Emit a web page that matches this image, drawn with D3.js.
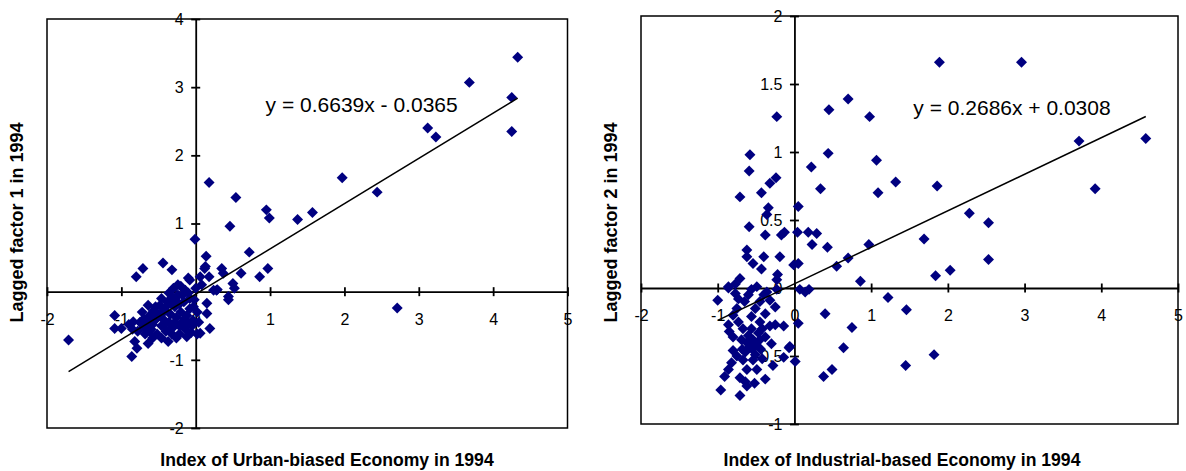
<!DOCTYPE html>
<html>
<head>
<meta charset="utf-8">
<script src="https://cdn.jsdelivr.net/npm/d3@7"></script>
<style>
  body { margin: 0; background: #fff; }
  svg text { font-family: "Liberation Sans", Arial, sans-serif; fill: #000; }
</style>
</head>
<body>
<svg id="chart" width="1186" height="471"></svg>
<script>
// values: [index, lagged factor]
const urbanPoints = [
  [4.33, 3.44], [3.68, 3.07], [4.25, 2.85], [3.12, 2.40], [3.23, 2.27], [4.25, 2.35],
  [1.97, 1.67], [2.44, 1.46], [0.18, 1.60], [0.54, 1.38], [0.95, 1.20], [0.99, 1.08],
  [1.37, 1.06], [1.57, 1.16], [0.46, 0.96], [-0.01, 0.77], [0.14, 0.52], [0.72, 0.58],
  [0.35, 0.34], [0.12, 0.34], [0.61, 0.27], [0.86, 0.22], [0.97, 0.34], [0.50, 0.12],
  [0.37, 0.27], [2.71, -0.24], [0.52, 0.05], [0.44, -0.07], [0.44, -0.12], [0.28, 0.02],
  [0.15, -0.17], [0.15, -0.32], [0.19, -0.54], [0.06, -0.61], [-0.08, 0.17], [-0.24, 0.10],
  [-0.37, -0.73], [-0.64, -0.76], [-1.71, -0.71], [-1.09, -0.35], [-1.09, -0.54], [-1.0, -0.54],
  [-0.86, -0.95], [-0.79, -0.83], [-0.82, -0.73], [-0.80, 0.22], [-0.71, 0.34], [-0.44, 0.42],
  [-0.32, 0.32], [-0.10, 0.20], [0.06, 0.22], [0.13, 0.37], [0.18, 0.22], [0.29, 0.03],
  [0.24, 0.02], [-0.84, -0.44], [-0.75, -0.45], [-0.70, -0.40], [-0.66, -0.50], [-0.62, -0.35],
  [-0.60, -0.55], [-0.57, -0.28], [-0.55, -0.42], [-0.52, -0.62], [-0.50, -0.33], [-0.48, -0.20],
  [-0.46, -0.50], [-0.44, -0.40], [-0.42, -0.27], [-0.40, -0.58], [-0.38, -0.15], [-0.36, -0.45],
  [-0.34, -0.33], [-0.32, -0.08], [-0.30, -0.52], [-0.28, -0.22], [-0.26, -0.38], [-0.24, -0.05],
  [-0.22, -0.62], [-0.20, -0.30], [-0.18, -0.45], [-0.16, -0.15], [-0.14, -0.55], [-0.12, -0.35],
  [-0.10, -0.02], [-0.08, -0.25], [-0.06, -0.60], [-0.04, -0.42], [-0.02, -0.12], [-0.30, 0.05],
  [-0.20, 0.08], [-0.14, 0.02], [-0.36, -0.02], [-0.78, -0.58], [-0.68, -0.62], [-0.58, -0.68],
  [-0.90, -0.48], [-0.85, -0.55], [-0.72, -0.30], [-0.64, -0.20], [-0.05, -0.50], [0.02, -0.30],
  [0.04, -0.45], [0.00, 0.05], [0.08, 0.10], [-0.46, -0.68], [-0.26, -0.68], [-0.12, -0.66],
  [0.02, -0.62], [-0.65, -0.42], [-0.58, -0.48], [-0.52, -0.38], [-0.45, -0.32], [-0.40, -0.22],
  [-0.33, -0.18], [-0.28, -0.10], [-0.22, -0.18], [-0.18, -0.05], [-0.42, -0.48], [-0.35, -0.55],
  [-0.28, -0.45], [-0.22, -0.50], [-0.15, -0.40], [-0.10, -0.48], [-0.08, -0.10], [-0.54, -0.22],
  [-0.70, -0.52], [-0.62, -0.58], [-0.32, -0.62], [-0.03, -0.22], [-0.46, -0.10]
];

const industrialPoints = [
  [1.89, 1.66], [2.96, 1.66], [0.70, 1.39], [0.45, 1.31], [0.98, 1.26], [-0.23, 1.26],
  [3.71, 1.08], [4.58, 1.10], [0.44, 0.99], [1.07, 0.94], [0.22, 0.89], [1.32, 0.78],
  [1.86, 0.75], [3.92, 0.73], [0.34, 0.73], [1.09, 0.70], [0.05, 0.60], [2.28, 0.55],
  [2.53, 0.48], [0.04, 0.41], [0.18, 0.41], [0.29, 0.40], [0.23, 0.32], [0.43, 0.30],
  [1.69, 0.36], [0.97, 0.32], [0.70, 0.22], [0.55, 0.16], [0.05, 0.18], [-0.01, 0.17],
  [2.53, 0.21], [2.03, 0.13], [1.84, 0.09], [0.86, 0.05], [0.07, -0.01], [0.14, -0.03],
  [0.19, -0.01], [1.22, -0.07], [1.46, -0.16], [0.40, -0.19], [0.05, -0.26], [0.75, -0.29],
  [0.64, -0.44], [1.82, -0.49], [0.01, -0.54], [1.45, -0.57], [0.49, -0.60], [0.38, -0.65],
  [-0.06, -0.43],
  [-0.58, 0.98], [-0.59, 0.86], [-0.24, 0.81], [-0.32, 0.77], [-0.43, 0.70], [-0.71, 0.67],
  [-0.34, 0.59], [-0.36, 0.54], [-0.59, 0.45], [-0.38, 0.39], [-0.17, 0.39], [-0.13, 0.41],
  [-0.62, 0.28], [-0.62, 0.23], [-0.54, 0.18], [-0.40, 0.23], [-0.43, 0.14], [-0.19, 0.23],
  [-0.22, 0.10], [-0.23, 0.06], [-0.71, 0.07], [-0.77, 0.03], [-0.86, 0.01], [-0.49, 0.01],
  [-1.0, -0.09], [-0.86, 0.00], [-0.77, -0.04], [-0.73, -0.08], [-0.60, -0.05], [-0.56, -0.01],
  [-0.36, -0.03], [-0.32, -0.09], [-0.25, -0.14], [-0.23, -0.01], [-0.86, -0.27], [-0.80, -0.20],
  [-0.73, -0.25], [-0.67, -0.30], [-0.56, -0.21], [-0.51, -0.15], [-0.45, -0.25], [-0.38, -0.19],
  [-0.32, -0.28], [-0.25, -0.27], [-0.14, -0.28], [-0.80, -0.36], [-0.69, -0.38], [-0.60, -0.35],
  [-0.54, -0.38], [-0.47, -0.33], [-0.38, -0.36], [-0.30, -0.41], [-0.58, -0.43], [-0.64, -0.47],
  [-0.51, -0.49], [-0.80, -0.46], [-0.07, -0.44], [-0.14, -0.51], [-0.28, -0.57], [-0.67, -0.53],
  [-0.49, -0.60], [-0.86, -0.60], [-0.91, -0.65], [-0.96, -0.75], [-0.71, -0.66], [-0.64, -0.69],
  [-0.38, -0.67], [-0.62, -0.72], [-0.71, -0.79], [-0.54, -0.53], [-0.62, -0.40], [-0.50, -0.42],
  [-0.44, -0.45], [-0.56, -0.30], [-0.42, -0.30], [-0.85, -0.32], [-0.75, -0.50], [-0.68, -0.45],
  [-0.55, -0.45], [-0.45, -0.38], [-0.42, -0.52], [-0.62, -0.60], [-0.52, -0.70], [-0.75, -0.15],
  [-0.65, -0.10], [-0.45, -0.10], [-0.40, -0.05], [-0.82, -0.55]
];

const xTicks = [-2, -1, 0, 1, 2, 3, 4, 5];
const urbanYTicks = [-2, -1, 0, 1, 2, 3, 4];
const industrialYTicks = [-1, -0.5, 0, 0.5, 1, 1.5, 2];

const urbanTrend = { slope: 0.6639, intercept: -0.0365, label: 'y = 0.6639x - 0.0365' };
const industrialTrend = { slope: 0.2686, intercept: 0.0308, label: 'y = 0.2686x + 0.0308' };

const svg = d3.select('#chart');

function drawPanel(cfg) {
  const g = svg.append('g');

  const x = d3.scaleLinear().domain(cfg.xDomain).range([cfg.left, cfg.right]);
  const y = d3.scaleLinear().domain(cfg.yDomain).range([cfg.bottom, cfg.top]);

  // plot frame
  g.append('rect')
    .attr('x', cfg.left)
    .attr('y', cfg.top)
    .attr('width', cfg.right - cfg.left)
    .attr('height', cfg.bottom - cfg.top)
    .attr('fill', 'none')
    .attr('stroke', '#000')
    .attr('stroke-width', 1.5);

  // axes cross at zero, ticks cross the line
  const xAxis = g.append('g')
    .attr('transform', `translate(0,${y(0)})`)
    .call(d3.axisBottom(x).tickValues(cfg.xTicks).tickFormat(d => String(d)).tickSizeOuter(0));
  xAxis.select('.domain').attr('stroke-width', 1.8);
  xAxis.selectAll('.tick line').attr('y1', -4.5).attr('y2', 4.5).attr('stroke-width', 1.8);
  xAxis.selectAll('.tick text').attr('y', 22).attr('dy', '0.71em');

  const yAxis = g.append('g')
    .attr('transform', `translate(${x(0)},0)`)
    .call(d3.axisLeft(y).tickValues(cfg.yTicks).tickFormat(d => String(d)).tickSizeOuter(0));
  yAxis.select('.domain').attr('stroke-width', 1.8);
  yAxis.selectAll('.tick line').attr('x1', -4.5).attr('x2', 4.5).attr('stroke-width', 1.8);
  yAxis.selectAll('.tick text').attr('x', -12).attr('dy', '0.34em');

  [xAxis, yAxis].forEach(a => a
    .attr('font-size', 16)
    .attr('font-family', '"Liberation Sans", Arial, sans-serif'));

  // diamonds
  g.selectAll('path.pt')
    .data(cfg.points)
    .join('path')
    .attr('class', 'pt')
    .attr('d', d3.symbol(d3.symbolSquare, 60))
    .attr('transform', d => `translate(${x(d[0])},${y(d[1])}) rotate(45)`)
    .attr('fill', '#000080');

  // linear trend over the data range
  const ext = d3.extent(cfg.points, d => d[0]);
  const line = d3.line().x(d => x(d)).y(d => y(cfg.trend.slope * d + cfg.trend.intercept));
  g.append('path')
    .attr('d', line(ext))
    .attr('fill', 'none')
    .attr('stroke', '#000')
    .attr('stroke-width', 1.5);

  g.append('text')
    .attr('x', x(cfg.eqAt[0]))
    .attr('y', y(cfg.eqAt[1]))
    .attr('font-size', 21)
    .text(cfg.trend.label);

  g.append('text')
    .attr('x', cfg.xTitleAt)
    .attr('y', 466)
    .attr('text-anchor', 'middle')
    .attr('font-size', 17.6)
    .attr('font-weight', 'bold')
    .text(cfg.xTitle);

  g.append('text')
    .attr('transform', `translate(${cfg.left - 24},222.5) rotate(-90)`)
    .attr('text-anchor', 'middle')
    .attr('font-size', 18)
    .attr('font-weight', 'bold')
    .text(cfg.yTitle);
}

drawPanel({
  left: 47, right: 567.5, top: 19, bottom: 428,
  xDomain: [-2, 5], yDomain: [-2, 4],
  xTicks: xTicks, yTicks: urbanYTicks,
  points: urbanPoints, trend: urbanTrend, eqAt: [0.94, 2.64],
  xTitle: 'Index of Urban-biased Economy in 1994', xTitleAt: 327,
  yTitle: 'Lagged factor 1 in 1994'
});

drawPanel({
  left: 641, right: 1178, top: 16, bottom: 424,
  xDomain: [-2, 5], yDomain: [-1, 2],
  xTicks: xTicks, yTicks: industrialYTicks,
  points: industrialPoints, trend: industrialTrend, eqAt: [1.55, 1.27],
  xTitle: 'Index of Industrial-based Economy in 1994', xTitleAt: 902,
  yTitle: 'Lagged factor 2 in 1994'
});
</script>
</body>
</html>
